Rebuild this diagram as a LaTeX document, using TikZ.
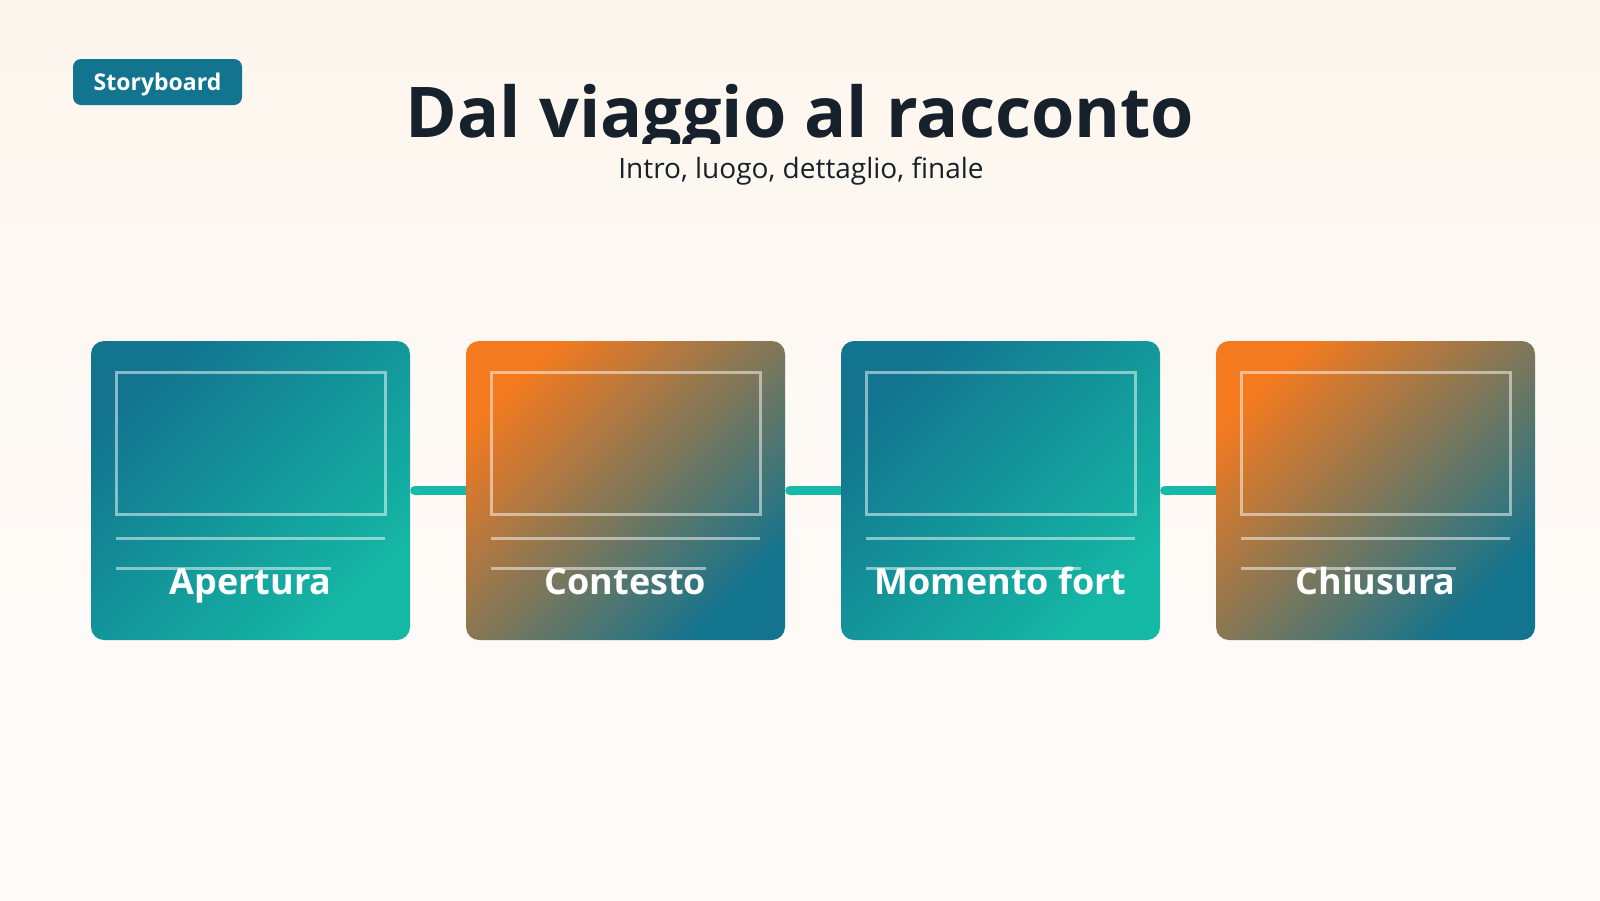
\documentclass[tikz,border=0pt]{standalone}
\usepackage{fontspec}
\setmainfont{Open Sans}
\usetikzlibrary{arrows.meta}
\definecolor{bgtop}{HTML}{FDF6EE}
\definecolor{bgbot}{HTML}{FEFCFB}
\definecolor{ink}{HTML}{17212B}
\definecolor{deepteal}{HTML}{12748F}
\definecolor{brightteal}{HTML}{15B8A5}
\definecolor{orangec}{HTML}{F47A1F}
\definecolor{linkc}{HTML}{17B9A7}
\begin{document}
\begin{tikzpicture}[x=1pt,y=-1pt,
  card/.style={minimum width=319pt, minimum height=299pt, rounded corners=13pt, inner sep=0pt},
  tealcard/.style={card, top color=deepteal, bottom color=brightteal, shading angle=45},
  orangecard/.style={card, top color=orangec, bottom color=deepteal, shading angle=45},
  sketch/.style={draw=white, draw opacity=0.5, line width=3pt},
  cardlabel/.style={text=white, font=\fontsize{36}{40}\selectfont\bfseries, anchor=base},
  link/.style={draw=linkc, line width=9pt, {Round Cap[]}-}
]
\useasboundingbox (0,0) rectangle (1600,900);
\shade[top color=bgtop, bottom color=bgbot] (0,0) rectangle (1600,900);

\node[fill=deepteal, rounded corners=8pt, minimum width=169pt, minimum height=46pt, inner sep=0pt,
      text height=16.4pt, text depth=0pt,
      text=white, font=\fontsize{23}{26}\selectfont\bfseries] (badge) at (157.5,82) {Storyboard};

\begin{scope}
  \clip (0,0) rectangle (1600,143);
  \node[anchor=base, text=ink, font=\fontsize{70}{78}\selectfont\bfseries] (title) at (800,137) {Dal viaggio al racconto};
\end{scope}
\node[anchor=base, text=ink, font=\fontsize{28}{33}\selectfont] (sub) at (801,178.5) {Intro, luogo, dettaglio, finale};

\foreach \i/\x/\sty/\lab in {1/250.5/tealcard/Apertura, 2/625.5/orangecard/Contesto, 3/1000.5/tealcard/Momento fort, 4/1375.5/orangecard/Chiusura} {
  \node[\sty] (c\i) at (\x,490.5) {};
  \draw[sketch] (\x-134.5,372) rectangle (\x+134.5,514);
  \draw[sketch] (\x-134.5,538) -- (\x+134,538);
  \draw[sketch] (\x-134.5,568) -- (\x+80,568);
  \node[cardlabel] (l\i) at (\x,594) {\lab};
}
\draw[link] (c1.east) -- (c2.west);
\draw[link] (c2.east) -- (c3.west);
\draw[link] (c3.east) -- (c4.west);
\end{tikzpicture}
\end{document}
